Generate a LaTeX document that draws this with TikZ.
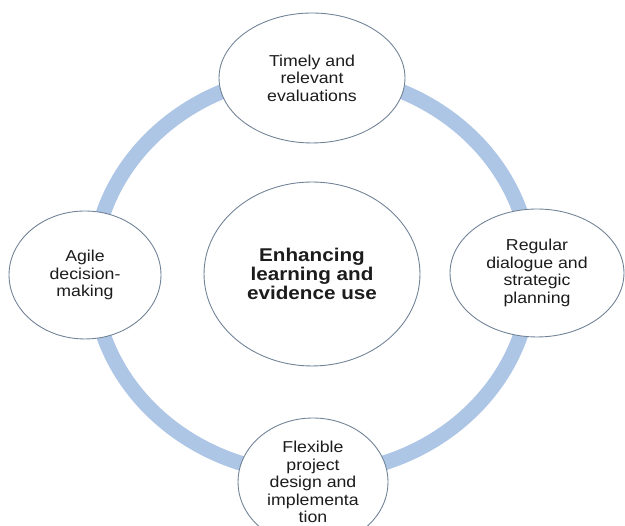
\documentclass[tikz,border=0pt]{standalone}
\usepackage{fontspec}
\setmainfont{Liberation Sans}[FakeStretch=1.12]
\usepackage{tikz}
\usetikzlibrary{shapes.geometric, positioning}
\definecolor{cycleRing}{RGB}{174,198,230}
\definecolor{cycleEdge}{RGB}{112,130,150}
\definecolor{cycleText}{RGB}{28,28,28}
\tikzset{
    cycle/.style={line cap=round, line join=round, x=0.02cm, y=0.02cm},
    ring/.style={draw=cycleRing, line width=0.3cm},
    stage/.style={ellipse, draw=cycleEdge, line width=0.5pt, fill=white,
                  inner sep=0pt, align=center, text=cycleText,
                  font=\fontsize{9}{9.9}\selectfont},
    hub/.style={stage, font=\fontsize{10.5}{10.6}\selectfont\bfseries},
}

\begin{document}
\begin{tikzpicture}[cycle]

\useasboundingbox (0,0) rectangle (625,526);
\clip (0,0) rectangle (625,526);

% ─── Anneau ─────────────────────────────────────────────────────────────
\draw[ring] (312,252) ellipse [x radius=219, y radius=200];

% ─── Centre ─────────────────────────────────────────────────────────────
\node[hub, minimum width=4.32cm, minimum height=3.68cm] (hub) at (312,252)
    {Enhancing\\learning and\\evidence use};

% ─── Etapes autour ──────────────────────────────────────────────────────
\node[stage, minimum width=3.72cm, minimum height=2.6cm]  (timely)   at (312,448)
    {Timely and\\relevant\\evaluations};
\node[stage, minimum width=3.48cm, minimum height=2.56cm] (dialogue) at (537,253)
    {Regular\\dialogue and\\strategic\\planning};
\node[stage, minimum width=3.0cm, minimum height=2.56cm]  (flexible) at (313,44)
    {Flexible\\project\\design and\\implementa\\tion};
\node[stage, minimum width=3.04cm, minimum height=2.56cm] (agile)    at (85,251)
    {Agile\\decision-\\making};

\end{tikzpicture}
\end{document}
